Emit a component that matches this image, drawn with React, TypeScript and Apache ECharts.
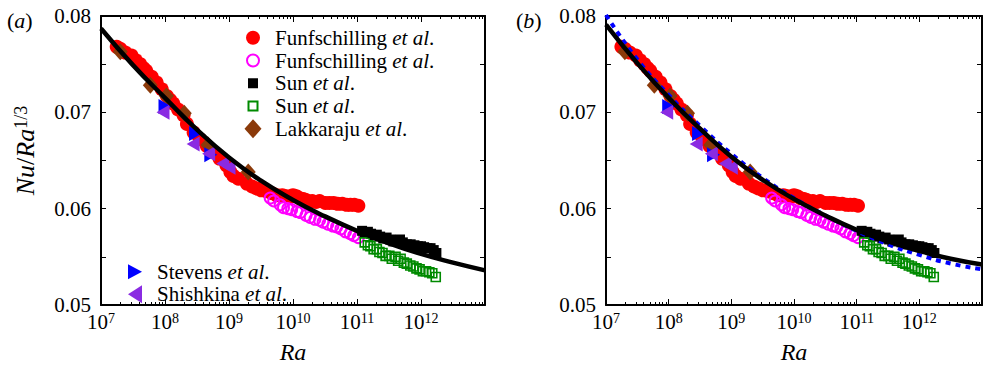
import React, { useEffect, useRef } from "react";
import * as echarts from "echarts";

const FONT = "Liberation Serif, Times New Roman, serif";

// Funfschilling et al. (filled red circles)
const raF1 = [1.76e7, 2.0e7, 2.4e7, 3.0e7, 3.5e7, 4.1e7, 4.6e7, 5.1e7, 6.2e7, 7.4e7, 8.9e7, 1.07e8, 1.2e8, 1.35e8, 1.6e8, 1.95e8, 2.2e8, 2.8e8, 3.5e8, 4.5e8, 5.6e8, 7.1e8, 9.1e8, 1.05e9, 1.17e9, 1.4e9, 1.9e9, 2.3e9, 2.7e9, 3.2e9, 3.9e9, 4.7e9, 5.6e9, 6.8e9, 7.9e9, 8.9e9, 1.0e10, 1.12e10, 1.26e10, 1.45e10, 1.6e10, 2.0e10, 2.3e10, 2.6e10, 3.2e10, 3.7e10, 4.3e10, 5.0e10, 5.9e10, 6.9e10, 7.9e10, 9.1e10, 1.05e11];
const nuF1 = [0.0768, 0.0766, 0.0762, 0.0759, 0.0754, 0.075, 0.0746, 0.0743, 0.0737, 0.0731, 0.0724, 0.0717, 0.0713, 0.0709, 0.0703, 0.0697, 0.0688, 0.0679, 0.0672, 0.0665, 0.0659, 0.0652, 0.0645, 0.0638, 0.0634, 0.0631, 0.0626, 0.0623, 0.0621, 0.0619, 0.0618, 0.0616, 0.0614, 0.0614, 0.0613, 0.0612, 0.0614, 0.0613, 0.0611, 0.061, 0.0609, 0.0608, 0.0607, 0.0608, 0.0606, 0.0606, 0.0606, 0.0605, 0.0605, 0.0604, 0.0604, 0.0604, 0.0603];

// Funfschilling et al. (open magenta circles)
const raF2 = [4.4e9, 5.0e9, 6.3e9, 7.1e9, 8.3e9, 9.5e9, 1.15e10, 1.3e10, 1.6e10, 1.85e10, 2.2e10, 2.6e10, 2.95e10, 3.5e10, 4.2e10, 4.8e10, 5.6e10, 6.6e10, 7.8e10, 8.9e10, 1.05e11];
const nuF2 = [0.0611, 0.0608, 0.0604, 0.0601, 0.06, 0.0599, 0.0597, 0.0596, 0.0593, 0.0591, 0.0589, 0.0588, 0.0586, 0.0584, 0.0582, 0.0581, 0.0579, 0.0576, 0.0574, 0.0572, 0.057];

// Sun et al. (filled black squares)
const raS1 = [1.2e11, 1.32e11, 1.48e11, 1.66e11, 1.86e11, 2.04e11, 2.3e11, 2.57e11, 2.9e11, 3.3e11, 3.7e11, 4.2e11, 4.7e11, 5.2e11, 6.0e11, 6.9e11, 7.9e11, 8.9e11, 1.0e12, 1.12e12, 1.26e12, 1.41e12, 1.58e12, 1.74e12];
const nuS1 = [0.0577, 0.0575, 0.0576, 0.0574, 0.0572, 0.0573, 0.0571, 0.0569, 0.057, 0.0568, 0.0566, 0.0567, 0.0568, 0.0565, 0.0563, 0.0563, 0.0562, 0.0561, 0.0561, 0.056, 0.0559, 0.0559, 0.0557, 0.0554];

// Sun et al. (open green squares)
const raS2 = [1.32e11, 1.48e11, 1.62e11, 1.82e11, 2.04e11, 2.24e11, 2.5e11, 2.8e11, 3.2e11, 3.5e11, 4.0e11, 4.4e11, 4.8e11, 5.4e11, 6.0e11, 6.8e11, 7.6e11, 8.5e11, 9.5e11, 1.07e12, 1.2e12, 1.35e12, 1.5e12, 1.7e12];
const nuS2 = [0.0565, 0.0562, 0.0561, 0.0558, 0.0558, 0.0555, 0.0554, 0.0551, 0.0551, 0.0548, 0.055, 0.0546, 0.0548, 0.0544, 0.0543, 0.0541, 0.054, 0.0538, 0.0537, 0.0535, 0.0535, 0.0534, 0.0533, 0.0529];

// Lakkaraju et al. (brown diamonds)
const raL = [2.0e7, 5.9e7, 1.05e8, 2.0e8, 4.7e8, 2.0e9];
const nuL = [0.0763, 0.0728, 0.0717, 0.0699, 0.0666, 0.0638];

// Stevens et al. (blue right triangles)
const raSt = [1.0e8, 3.0e8, 5.2e8];
const nuSt = [0.0706, 0.0678, 0.0656];

// Shishkina et al. (purple left triangles)
const raSh = [9.3e7, 2.75e8, 4.8e8, 8.0e8, 1.0e9];
const nuSh = [0.07, 0.0667, 0.0657, 0.0647, 0.0643];

// fitted curves
const raCurve = [1e7, 3.16e7, 1e8, 3.16e8, 1e9, 3.16e9, 1e10, 3.16e10, 1e11, 3.16e11, 1e12, 3.16e12, 1e13];
const nuCurveA = [0.0787, 0.0749, 0.0715, 0.0682, 0.0653, 0.0629, 0.0609, 0.0592, 0.0577, 0.0564, 0.0553, 0.0544, 0.0536];
const nuCurveB = [0.0791, 0.0751, 0.0715, 0.0683, 0.0654, 0.063, 0.061, 0.0593, 0.0578, 0.0566, 0.0556, 0.0548, 0.0542];
const nuDashB = [0.0801, 0.0755, 0.0718, 0.0686, 0.0657, 0.0632, 0.0611, 0.0593, 0.0577, 0.0563, 0.0552, 0.0543, 0.0537];

const decades = [7, 8, 9, 10, 11, 12];
const minorMultipliers = [2, 3, 4, 5, 6, 7, 8, 9];

const legendText: Record<string, string> = {
  F1: "Funfschilling {i|et al}.",
  F2: "Funfschilling {i|et al}.",
  S1: "Sun {i|et al}.",
  S2: "Sun {i|et al}.",
  L: "Lakkaraju {i|et al}.",
  St: "Stevens {i|et al}.",
  Sh: "Shishkina {i|et al}.",
};

const TRI_RIGHT = "path://M0,0L9,5.5L0,11Z";
const TRI_LEFT = "path://M9,0L0,5.5L9,11Z";

// legend icons drawn in a 20x20 box (the leading moves fix the box)
const BOX = "path://M0,0M20,20";
const legendIcons: Record<string, string> = {
  F1: BOX + "M3,10A7,7,0,1,0,17,10A7,7,0,1,0,3,10Z",
  F2: BOX + "M4,10A6,6,0,1,0,16,10A6,6,0,1,0,4,10Z",
  S1: BOX + "M5,5L15,5L15,15L5,15Z",
  S2: BOX + "M5.5,5.5L14.5,5.5L14.5,14.5L5.5,14.5Z",
  L: BOX + "M10,0.5L18.5,10L10,19.5L1.5,10Z",
  St: BOX + "M3,2.5L17,10L3,17.5Z",
  Sh: BOX + "M17,1L3,10L17,19Z",
};

const zip = (xs: number[], ys: number[]) => xs.map((x, i) => [x, ys[i]]);

export default function App() {
  const ref = useRef<HTMLDivElement>(null);
  useEffect(() => {
    if (!ref.current) return;
    const chart = echarts.init(ref.current, undefined, { renderer: "svg" });
    const minorVals: number[] = [];
    decades.forEach((d) => minorMultipliers.forEach((m) => minorVals.push(d + Math.log10(m))));

    const grids = [
      { left: 101, top: 16, width: 384, height: 292 },
      { left: 606, top: 16, width: 384, height: 292 },
    ];
    const black = "#000";
    const labelRich = {
      sup: { fontSize: 14, fontFamily: FONT, color: black, verticalAlign: "top" as const },
    };
    const xAxes: any[] = [];
    const yAxes: any[] = [];
    grids.forEach((_, g) => {
      xAxes.push({
        type: "log", logBase: 10, gridIndex: g, min: 1e7, max: 1e13, position: "bottom",
        axisLine: { show: true, onZero: false, lineStyle: { color: black, width: 2 } },
        axisTick: { inside: true, length: 6, lineStyle: { color: black, width: 1 } },
        axisLabel: {
          color: black, fontFamily: FONT, fontSize: 21, margin: 6,
          formatter: (v: number) => {
            const e = Math.round(Math.log10(v));
            return e >= 13 ? "" : `10{sup|${e}}`;
          },
          rich: labelRich,
        },
        splitLine: { show: false },
        name: "Ra", nameLocation: "middle", nameGap: 35,
        nameTextStyle: { color: black, fontFamily: FONT, fontSize: 24, fontStyle: "italic" },
      });
      xAxes.push({
        type: "log", logBase: 10, gridIndex: g, min: 1e7, max: 1e13, position: "top",
        axisLine: { show: true, onZero: false, lineStyle: { color: black, width: 2 } },
        axisTick: { inside: true, length: 6, lineStyle: { color: black, width: 1 } },
        axisLabel: { show: false }, splitLine: { show: false },
      });
      ["bottom", "top"].forEach((pos) =>
        xAxes.push({
          type: "value", gridIndex: g, min: 7, max: 13, position: pos,
          axisLine: { show: false },
          axisTick: { inside: true, length: 3, customValues: minorVals, lineStyle: { color: black, width: 1 } },
          axisLabel: { show: false }, splitLine: { show: false },
        })
      );
      yAxes.push({
        type: "value", gridIndex: g, min: 0.05, max: 0.08, interval: 0.005, position: "left",
        axisLine: { show: true, onZero: false, lineStyle: { color: black, width: 2 } },
        axisTick: { inside: true, length: 5, lineStyle: { color: black, width: 1 } },
        axisLabel: {
          color: black, fontFamily: FONT, fontSize: 21, margin: 10,
          formatter: (v: number) => (Math.round(v * 1000) % 10 === 0 ? v.toFixed(2) : ""),
        },
        splitLine: { show: false },
        ...(g === 0
          ? {
              name: "{it|Nu}/{it|Ra}{sup|1/3}",
              nameLocation: "middle",
              nameGap: 63,
              nameRotate: 90,
              nameTextStyle: {
                color: black, fontFamily: FONT, fontSize: 26, padding: [0, 0, 0, 20],
                rich: {
                  it: { fontStyle: "italic", fontFamily: FONT, fontSize: 26, color: black },
                  sup: { fontFamily: FONT, fontSize: 18, color: black, verticalAlign: "top" },
                },
              },
            }
          : {}),
      });
      yAxes.push({
        type: "value", gridIndex: g, min: 0.05, max: 0.08, interval: 0.005, position: "right",
        axisLine: { show: true, onZero: false, lineStyle: { color: black, width: 2 } },
        axisTick: { inside: true, length: 5, lineStyle: { color: black, width: 1 } },
        axisLabel: { show: false }, splitLine: { show: false },
      });
    });

    const series: any[] = [];
    grids.forEach((_, g) => {
      const xi = g * 4;
      const yi = g * 2;
      const sfx = g === 0 ? "" : "_b";
      const base = { type: "scatter", xAxisIndex: xi, yAxisIndex: yi, silent: true };
      series.push({ ...base, name: "F1" + sfx, data: zip(raF1, nuF1), symbol: "circle", symbolSize: 14, itemStyle: { color: "#ff0000", opacity: 1 } });
      series.push({ ...base, name: "F2" + sfx, data: zip(raF2, nuF2), symbol: "circle", symbolSize: 11, itemStyle: { color: "rgba(255,255,255,0)", borderColor: "#ff00ff", borderWidth: 2, opacity: 1 } });
      series.push({ ...base, name: "S1" + sfx, data: zip(raS1, nuS1), symbol: "rect", symbolSize: 10, itemStyle: { color: "#000000", opacity: 1 } });
      series.push({ ...base, name: "S2" + sfx, data: zip(raS2, nuS2), symbol: "rect", symbolSize: 9, itemStyle: { color: "rgba(255,255,255,0)", borderColor: "#008a00", borderWidth: 1.6, opacity: 1 } });
      series.push({ ...base, name: "L" + sfx, data: zip(raL, nuL), symbol: "diamond", symbolSize: [15, 17], itemStyle: { color: "#8b3a0a", opacity: 1 } });
      series.push({ ...base, name: "St" + sfx, data: zip(raSt, nuSt), symbol: TRI_RIGHT, symbolSize: [13, 15], itemStyle: { color: "#0000ff", opacity: 1 } });
      series.push({ ...base, name: "Sh" + sfx, data: zip(raSh, nuSh), symbol: TRI_LEFT, symbolSize: [13, 15], itemStyle: { color: "#8a2be2", opacity: 1 } });
      if (g === 1) {
        series.push({
          type: "line", name: "dash_b", xAxisIndex: xi, yAxisIndex: yi, silent: true, smooth: true,
          showSymbol: false, symbol: "none", data: zip(raCurve, nuDashB),
          lineStyle: { color: "#0000ff", width: 4, type: [5, 5] }, z: 3,
        });
      }
      series.push({
        type: "line", name: "curve" + sfx, xAxisIndex: xi, yAxisIndex: yi, silent: true, smooth: true,
        showSymbol: false, symbol: "none", data: zip(raCurve, g === 0 ? nuCurveA : nuCurveB),
        lineStyle: { color: "#000000", width: 4.5 }, z: 4,
      });
    });

    const legendBase = {
      orient: "vertical" as const,
      itemWidth: 20, itemHeight: 20, itemGap: 1,
      selectedMode: false,
      formatter: (n: string) => legendText[n] || n,
      textStyle: {
        color: black, fontFamily: FONT, fontSize: 21, lineHeight: 21.5, padding: [0, 0, 0, 7],
        rich: { i: { fontStyle: "italic", fontFamily: FONT, fontSize: 21, color: black } },
      },
    };
    const legendData = (names: string[]) => names.map((n) => ({ name: n, icon: legendIcons[n] }));

    chart.setOption({
      animation: false,
      backgroundColor: "#ffffff",
      grid: grids,
      xAxis: xAxes,
      yAxis: yAxes,
      legend: [
        { ...legendBase, left: 237, top: 22, data: legendData(["F1", "F2", "S1", "S2", "L"]) },
        { ...legendBase, left: 120, top: 256, data: legendData(["St", "Sh"]) },
      ],
      graphic: [
        {
          type: "text", left: 7, top: 9,
          style: {
            text: "({i|a})", fontFamily: FONT, fontSize: 22, fill: black,
            rich: { i: { fontStyle: "italic", fontFamily: FONT, fontSize: 22, fill: black } },
          },
        },
        {
          type: "text", left: 516, top: 9,
          style: {
            text: "({i|b})", fontFamily: FONT, fontSize: 22, fill: black,
            rich: { i: { fontStyle: "italic", fontFamily: FONT, fontSize: 22, fill: black } },
          },
        },
      ],
      series,
    });
    return () => chart.dispose();
  }, []);
  return (
    <div
      ref={ref}
      style={{ position: "fixed", left: 0, top: 0, width: 985, height: 369, background: "#fff" }}
    />
  );
}
